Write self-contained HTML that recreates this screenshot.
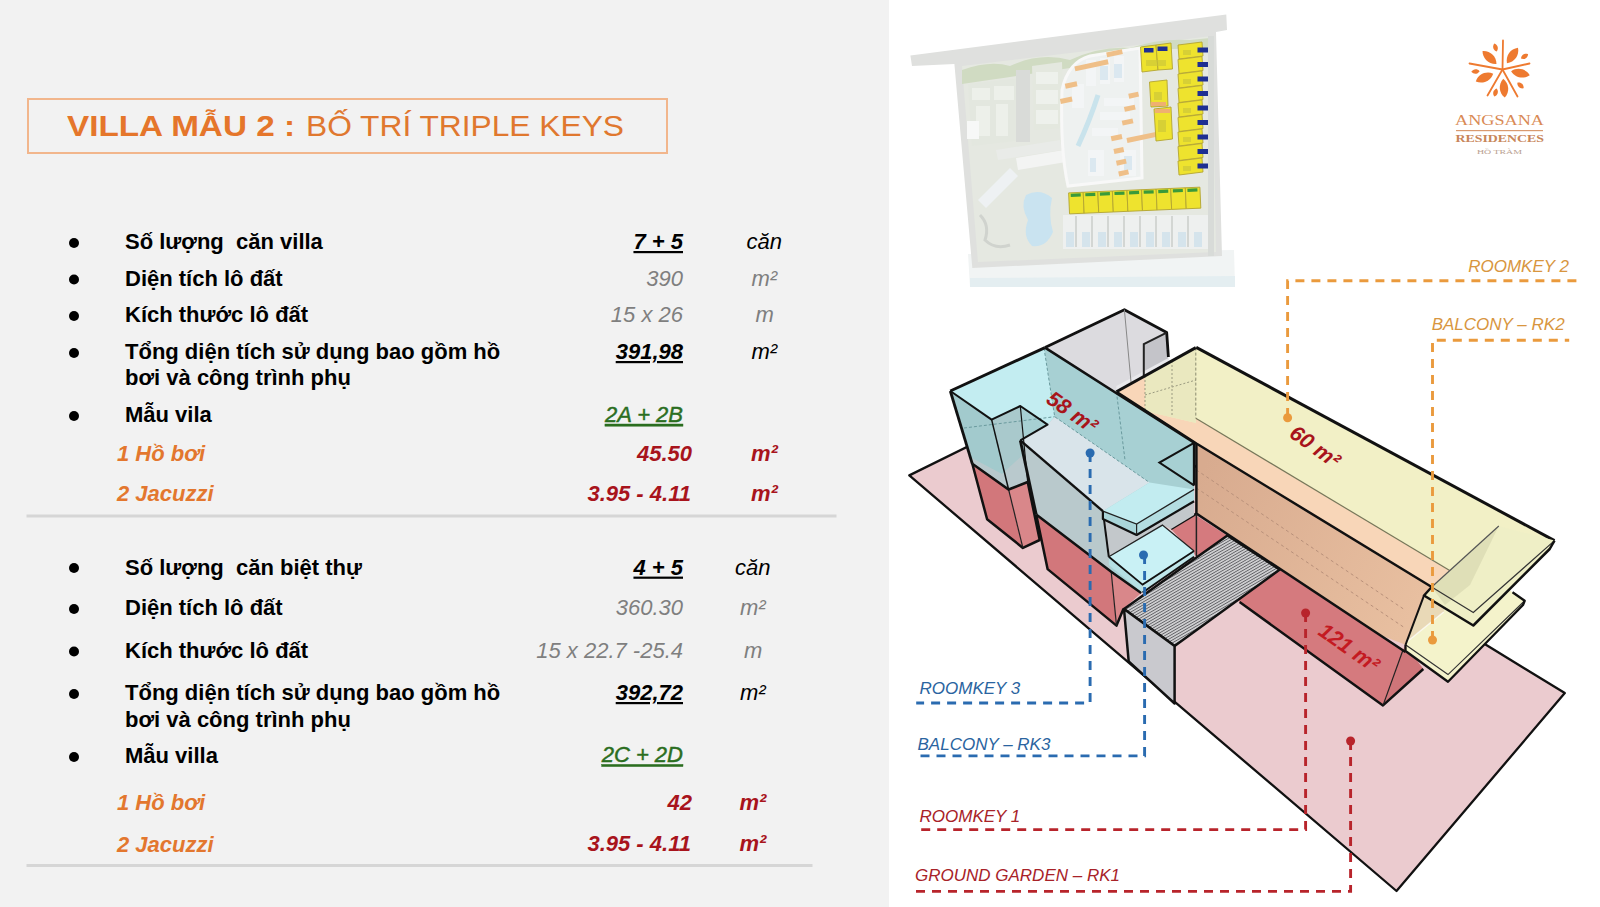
<!DOCTYPE html>
<html><head><meta charset="utf-8">
<style>
html,body{margin:0;padding:0;width:1600px;height:907px;overflow:hidden;background:#fff;}
svg{display:block;font-family:"Liberation Sans",sans-serif;}
</style></head>
<body>
<svg width="1600" height="907" viewBox="0 0 1600 907">
<rect x="0" y="0" width="889" height="907" fill="#f2f2f2"/>
<rect x="889" y="0" width="711" height="907" fill="#ffffff"/>

<!-- title -->
<rect x="28" y="99" width="639" height="54" fill="none" stroke="#f2b68c" stroke-width="2"/>
<text x="67" y="136" font-size="30" font-weight="bold" fill="#e5762b" textLength="228" lengthAdjust="spacingAndGlyphs">VILLA MẪU 2 :</text>
<text x="306" y="136" font-size="30" fill="#e0782f" textLength="318" lengthAdjust="spacingAndGlyphs">BỐ TRÍ TRIPLE KEYS</text>

<g font-size="22">
<!-- section 1 -->
<g fill="#000">
<circle cx="74" cy="243" r="5"/><circle cx="74" cy="279.5" r="5"/><circle cx="74" cy="316" r="5"/><circle cx="74" cy="353" r="5"/><circle cx="74" cy="416" r="5"/>
<circle cx="74" cy="568" r="5"/><circle cx="74" cy="609" r="5"/><circle cx="74" cy="651.5" r="5"/><circle cx="74" cy="694" r="5"/><circle cx="74" cy="757" r="5"/>
</g>
<g font-weight="bold" fill="#000" style="white-space:pre">
<text x="125" y="249">Số lượng&#160; căn villa</text>
<text x="125" y="285.5">Diện tích lô đất</text>
<text x="125" y="322">Kích thước lô đất</text>
<text x="125" y="359">Tổng diện tích sử dụng bao gồm hồ</text>
<text x="125" y="385">bơi và công trình phụ</text>
<text x="125" y="422">Mẫu vila</text>

<text x="125" y="574.6">Số lượng&#160; căn biệt thự</text>
<text x="125" y="615.4">Diện tích lô đất</text>
<text x="125" y="657.6">Kích thước lô đất</text>
<text x="125" y="700">Tổng diện tích sử dụng bao gồm hồ</text>
<text x="125" y="726.5">bơi và công trình phụ</text>
<text x="125" y="763.4">Mẫu villa</text>
</g>
<g font-weight="bold" font-style="italic" fill="#e3772e">
<text x="117" y="461">1 Hồ bơi</text>
<text x="117" y="500.6">2 Jacuzzi</text>
<text x="117" y="809.7">1 Hồ bơi</text>
<text x="117" y="852">2 Jacuzzi</text>
</g>
<g text-anchor="end" font-style="italic">
<text x="683" y="249" font-weight="bold" text-decoration="underline">7 + 5</text>
<text x="683" y="285.5" fill="#7f7f7f">390</text>
<text x="683" y="322" fill="#7f7f7f">15 x 26</text>
<text x="683" y="359" font-weight="bold" text-decoration="underline">391,98</text>
<text x="683" y="422" fill="#2b6e1f" stroke="#2b6e1f" stroke-width="0.45" text-decoration="underline">2A + 2B</text>
<text x="692" y="461" fill="#a8141c" font-weight="bold">45.50</text>
<text x="691" y="501" fill="#a8141c" font-weight="bold">3.95 - 4.11</text>

<text x="683" y="574.6" font-weight="bold" text-decoration="underline">4 + 5</text>
<text x="683" y="615.4" fill="#7f7f7f">360.30</text>
<text x="683" y="658.2" fill="#7f7f7f">15 x 22.7 -25.4</text>
<text x="683" y="700" font-weight="bold" text-decoration="underline">392,72</text>
<text x="683" y="762.4" fill="#2b6e1f" stroke="#2b6e1f" stroke-width="0.45" text-decoration="underline">2C + 2D</text>
<text x="692" y="809.6" fill="#a8141c" font-weight="bold">42</text>
<text x="691" y="851.1" fill="#a8141c" font-weight="bold">3.95 - 4.11</text>
</g>
<g font-style="italic">
<text x="746.6" y="249">căn</text>
<text x="751.5" y="285.5" fill="#7f7f7f">m²</text>
<text x="755.5" y="322" fill="#7f7f7f">m</text>
<text x="751.5" y="359">m²</text>
<text x="751" y="461" fill="#a8141c" font-weight="bold">m²</text>
<text x="751" y="501" fill="#a8141c" font-weight="bold">m²</text>

<text x="735" y="574.6">căn</text>
<text x="740" y="615.4" fill="#7f7f7f">m²</text>
<text x="744" y="658.2" fill="#7f7f7f">m</text>
<text x="740" y="700">m²</text>
<text x="739.4" y="809.6" fill="#a8141c" font-weight="bold">m²</text>
<text x="739.4" y="851.1" fill="#a8141c" font-weight="bold">m²</text>
</g>
</g>
<rect x="26.5" y="514.5" width="810" height="3" fill="#d6d6d6"/>
<rect x="26.5" y="864" width="786" height="3" fill="#d6d6d6"/>

<!-- DIAGRAM -->
<g id="diagram">
<!-- site plan -->
<g id="siteplan">
<polygon points="968,254 1234,250 1235,285 970,287" fill="#f1f4f4"/>
<polygon points="970,278 1235,276 1235,287 970,287" fill="#e4eef1"/>
<!-- outer road / base -->
<polygon points="910.4,55.4 1226.3,14.6 1227,30 1216,32 1222,256 972.3,268 954.4,64 912,66" fill="#dfe0de"/>
<!-- site interior -->
<polygon points="962,66 1212,36 1216,252 978,262" fill="#e5e8e1"/>
<!-- tree band -->
<path d="M962,70 Q990,60 1010,66 Q1040,52 1070,60 Q1100,46 1130,48 Q1160,38 1190,40 L1210,38 L1210,50 Q1170,46 1140,54 Q1100,58 1070,68 Q1030,74 962,84 Z" fill="#d0dbc2"/>
<!-- left resort block -->
<polygon points="968,84 1020,78 1024,140 972,146" fill="#e3e7df"/>
<g fill="#edf0ea">
<rect x="972" y="88" width="18" height="12"/><rect x="994" y="86" width="20" height="14"/><rect x="976" y="106" width="14" height="30"/><rect x="996" y="104" width="12" height="32"/>
</g>
<rect x="967" y="121" width="12" height="18" fill="#f7f8f7"/>
<rect x="1016" y="70" width="14" height="72" fill="#d9dbd8"/>
<polygon points="1032,66 1062,62 1064,128 1034,130" fill="#e4e8df"/>
<g fill="#eef1ec"><rect x="1036" y="72" width="22" height="12"/><rect x="1036" y="90" width="22" height="14"/><rect x="1036" y="110" width="22" height="14"/></g>
<polygon points="1016,158 1064,150 1066,162 1018,170" fill="#f3f4f3"/>
<polygon points="996,150 1060,140 1062,150 998,160" fill="#e9ebe8"/>
<polygon points="978,200 1010,168 1018,176 986,208" fill="#eef1f3"/>
<path d="M980,215 Q990,225 985,240 Q995,250 1010,245" fill="none" stroke="#d0d3ce" stroke-width="3"/>
<!-- central villa cluster -->
<path d="M1062,90 Q1068,62 1090,56 L1140,48 L1142,178 L1068,186 Q1060,150 1062,90 Z" fill="#eef1f0" stroke="#f8f8f8" stroke-width="3"/>
<g fill="#f3f5f6">
<rect x="1086" y="60" width="10" height="26"/><rect x="1100" y="58" width="10" height="26"/><rect x="1114" y="56" width="10" height="26"/>
<rect x="1072" y="84" width="12" height="24"/><rect x="1104" y="98" width="30" height="8"/><rect x="1100" y="112" width="30" height="8"/>
<rect x="1092" y="128" width="26" height="8"/><rect x="1088" y="150" width="16" height="26"/><rect x="1120" y="150" width="16" height="26"/>
</g>
<g fill="#dbe8f0">
<rect x="1100" y="66" width="8" height="14"/><rect x="1114" y="64" width="8" height="14"/><rect x="1090" y="158" width="6" height="14"/><rect x="1124" y="156" width="8" height="14"/>
</g>
<g fill="#efbf88" transform="rotate(-12 1100 110)">
<rect x="1118" y="55" width="16" height="5"/><rect x="1084" y="62" width="34" height="5"/><rect x="1071" y="77" width="12" height="5"/>
<rect x="1063" y="91" width="12" height="5"/><rect x="1131" y="100" width="10" height="5"/><rect x="1124" y="112" width="11" height="5"/>
<rect x="1119" y="125" width="11" height="5"/><rect x="1105" y="138" width="11" height="5"/><rect x="1120" y="143" width="30" height="5"/>
<rect x="1105" y="151" width="10" height="5"/><rect x="1105" y="163" width="10" height="5"/><rect x="1105" y="174" width="10" height="5"/>
</g>
<path d="M1098,95 Q1090,120 1078,146" fill="none" stroke="#c9e3ec" stroke-width="5"/>
<!-- pool -->
<path d="M1026,195 Q1040,188 1052,198 Q1048,215 1053,232 Q1046,248 1032,246 Q1022,236 1028,220 Q1020,206 1026,195 Z" fill="#c9e3f0"/>
<!-- villa strips bottom -->
<rect x="1063" y="215" width="146" height="34" fill="#eef0ef"/>
<g fill="#d5e4ec">
<rect x="1066" y="232" width="8" height="15"/><rect x="1082" y="232" width="8" height="15"/><rect x="1098" y="232" width="8" height="15"/>
<rect x="1114" y="232" width="8" height="15"/><rect x="1130" y="232" width="8" height="15"/><rect x="1146" y="232" width="8" height="15"/>
<rect x="1162" y="232" width="8" height="15"/><rect x="1178" y="232" width="8" height="15"/><rect x="1194" y="232" width="8" height="15"/>
</g>
<g fill="#d3d6d3">
<rect x="1075" y="216" width="2" height="31"/><rect x="1091" y="216" width="2" height="31"/><rect x="1107" y="216" width="2" height="31"/>
<rect x="1123" y="216" width="2" height="31"/><rect x="1139" y="216" width="2" height="31"/><rect x="1155" y="216" width="2" height="31"/>
<rect x="1171" y="216" width="2" height="31"/><rect x="1187" y="216" width="2" height="31"/>
</g>
<rect x="1208" y="36" width="6" height="220" fill="#d8dbd8"/>
<!-- yellow villa blocks -->
<g fill="#eee32e" stroke="#b3a531" stroke-width="0.9">
<polygon points="1178,45 1202,42 1203,56 1179,59"/><polygon points="1178,59.5 1202,56.5 1203,70.5 1179,73.5"/><polygon points="1178,74 1202,71 1203,85 1179,88"/>
<polygon points="1178,88.5 1202,85.5 1203,99.5 1179,102.5"/><polygon points="1178,103 1202,100 1203,114 1179,117"/><polygon points="1178,117.5 1202,114.5 1203,128.5 1179,131.5"/>
<polygon points="1178,132 1202,129 1203,143 1179,146"/><polygon points="1178,146.5 1202,143.5 1203,157.5 1179,160.5"/><polygon points="1178,161 1202,158 1203,172 1179,175"/>
<polygon points="1140.5,47 1156,45 1158,70 1142,72"/><polygon points="1156,45 1171,43 1172.5,69 1158,70"/>
<polygon points="1149.5,82 1167,80 1168,106 1151,107"/><polygon points="1154,109 1171,107 1172.5,139 1156,141"/>
</g>
<g fill="#eee32e" stroke="#b3a531" stroke-width="0.9" transform="rotate(-2.5 1135 200)">
<rect x="1069" y="190" width="14.6" height="21"/><rect x="1083.6" y="190" width="14.6" height="21"/><rect x="1098.2" y="190" width="14.6" height="21"/>
<rect x="1112.8" y="190" width="14.6" height="21"/><rect x="1127.4" y="190" width="14.6" height="21"/><rect x="1142" y="190" width="14.6" height="21"/>
<rect x="1156.6" y="190" width="14.6" height="21"/><rect x="1171.2" y="190" width="14.6" height="21"/><rect x="1185.8" y="190" width="14.6" height="21"/>
</g>
<g fill="#c9c53a" opacity="0.6">
<rect x="1183" y="50" width="8" height="5"/><rect x="1183" y="79" width="8" height="5"/><rect x="1183" y="108" width="8" height="5"/><rect x="1183" y="137" width="8" height="5"/><rect x="1183" y="166" width="8" height="5"/>
<rect x="1146" y="60" width="20" height="6"/><rect x="1154" y="92" width="8" height="8"/><rect x="1158" y="120" width="8" height="12"/>
</g>
<g fill="#3a9a3a" transform="rotate(-2.5 1135 200)">
<rect x="1071" y="191" width="10" height="3.2"/><rect x="1085.6" y="191" width="10" height="3.2"/><rect x="1100.2" y="191" width="10" height="3.2"/>
<rect x="1114.8" y="191" width="10" height="3.2"/><rect x="1129.4" y="191" width="10" height="3.2"/><rect x="1144" y="191" width="10" height="3.2"/>
<rect x="1158.6" y="191" width="10" height="3.2"/><rect x="1173.2" y="191" width="10" height="3.2"/><rect x="1187.8" y="191" width="10" height="3.2"/>
</g>
<g fill="#1e2f92">
<rect x="1197.5" y="47.5" width="10.5" height="5"/><rect x="1197.5" y="62" width="10.5" height="5"/><rect x="1197.5" y="76.5" width="10.5" height="5"/>
<rect x="1197.5" y="91" width="10.5" height="5"/><rect x="1197.5" y="105.5" width="10.5" height="5"/><rect x="1197.5" y="120" width="10.5" height="5"/>
<rect x="1197.5" y="134.5" width="10.5" height="5"/><rect x="1197.5" y="149" width="10.5" height="5"/><rect x="1197.5" y="163.5" width="10.5" height="5"/>
<rect x="1144" y="48" width="9.5" height="4.5"/><rect x="1157.5" y="46.5" width="10" height="4.5"/>
</g>
<g fill="#efb070"><rect x="1151" y="102" width="15" height="4"/><rect x="1155" y="109" width="15" height="4"/></g>
</g>
<!-- logo -->
<g id="logo" transform="translate(1502.5,69.5)" fill="#ee7a30">
<path transform="rotate(35.5) translate(0,-17.2)" d="M0,-9.5 C5.6,-4.275 5.6,4.275 0,9.5 C-5.6,4.275 -5.6,-4.275 0,-9.5 Z"/>
<path transform="rotate(-47.3) translate(0,-17.7)" d="M0,-9.5 C5.6,-4.275 5.6,4.275 0,9.5 C-5.6,4.275 -5.6,-4.275 0,-9.5 Z"/>
<path transform="rotate(-114.0) translate(0,-19.7)" d="M0,-9.5 C5.6,-4.275 5.6,4.275 0,9.5 C-5.6,4.275 -5.6,-4.275 0,-9.5 Z"/>
<path transform="rotate(101.7) translate(0,-18.3)" d="M0,-9.5 C5.6,-4.275 5.6,4.275 0,9.5 C-5.6,4.275 -5.6,-4.275 0,-9.5 Z"/>
<path transform="rotate(175.4) translate(0,-18.7)" d="M0,-9.5 C5.6,-4.275 5.6,4.275 0,9.5 C-5.6,4.275 -5.6,-4.275 0,-9.5 Z"/>
<path transform="rotate(-17.7) translate(0,-23.1)" d="M0,-4.2 C3,-1.8900000000000001 3,1.8900000000000001 0,4.2 C-3,1.8900000000000001 -3,-1.8900000000000001 0,-4.2 Z"/>
<path transform="rotate(59.4) translate(0,-25.6)" d="M0,-4.2 C3,-1.8900000000000001 3,1.8900000000000001 0,4.2 C-3,1.8900000000000001 -3,-1.8900000000000001 0,-4.2 Z"/>
<path transform="rotate(-94.2) translate(0,-27.1)" d="M0,-4.2 C3,-1.8900000000000001 3,1.8900000000000001 0,4.2 C-3,1.8900000000000001 -3,-1.8900000000000001 0,-4.2 Z"/>
<path transform="rotate(131.6) translate(0,-24.1)" d="M0,-4.2 C3,-1.8900000000000001 3,1.8900000000000001 0,4.2 C-3,1.8900000000000001 -3,-1.8900000000000001 0,-4.2 Z"/>
<path transform="rotate(-163.1) translate(0,-24.0)" d="M0,-4.2 C3,-1.8900000000000001 3,1.8900000000000001 0,4.2 C-3,1.8900000000000001 -3,-1.8900000000000001 0,-4.2 Z"/>
<g stroke="#ee7a30" stroke-width="1.8" stroke-linecap="round">
<line x1="0" y1="0" x2="0.5" y2="-29"/>
<line x1="0" y1="0" x2="-33" y2="-6"/>
<line x1="0" y1="0" x2="27" y2="-6"/>
<line x1="0" y1="0" x2="-15" y2="26"/>
<line x1="0" y1="0" x2="15" y2="27"/>
</g></g>
<text x="1455" y="125.3" font-family="Liberation Serif" font-size="14" fill="#d98a55" textLength="89" lengthAdjust="spacingAndGlyphs">ANGSANA</text>
<rect x="1456" y="130" width="87" height="1.2" fill="#d99a70"/>
<text x="1455.5" y="142.4" font-family="Liberation Serif" font-weight="bold" font-size="9.8" fill="#c8865a" textLength="88.5" lengthAdjust="spacingAndGlyphs">RESIDENCES</text>
<text x="1477" y="154.3" font-family="Liberation Serif" font-size="7" fill="#b9a090" textLength="45" lengthAdjust="spacingAndGlyphs">HỒ TRÀM</text>
<!-- ground plane -->
<polygon points="909.3,475.4 1396.5,891 1564.8,693.1 1076,393" fill="#ebcbcf" stroke="#111" stroke-width="2.3" stroke-linejoin="round"/>

<!-- gray back block -->
<polygon points="1045,347.6 1124.4,309.7 1166.7,332.6 1168.4,363 1116.4,391.7" fill="#dcdbdf"/>
<polygon points="1143.8,344.1 1166.7,332.6 1168.4,363 1144.6,377" fill="#c4c4c9"/>
<polygon points="1116.4,391.7 1168.4,363 1168.4,358 1116.4,386" fill="#e9e9ec"/>
<polyline points="1045,347.6 1124.4,309.7 1166.7,332.6 1168.4,357" fill="none" stroke="#111" stroke-width="2.8" stroke-linejoin="round"/>
<polyline points="1143.8,377 1143.8,344.1 1166.7,332.6" fill="none" stroke="#222" stroke-width="2"/>
<polyline points="1124.4,309.7 1131,382" fill="none" stroke="#888" stroke-width="1"/>

<!-- long building: yellow box -->
<polygon points="1116.4,391.7 1195.8,347.6 1554.5,540.6 1549.7,549 1473.3,625.5 1431.7,587 1196.4,443.5" fill="#f2f0c6"/>
<polygon points="1116.4,391.7 1145,376 1145,411 1196,423 1195.8,418.2 1449.7,570.6 1431.7,587 1196.4,443.5" fill="#f8d6b8"/>
<polygon points="1145,376 1195.8,347.6 1195.8,423 1145,411" fill="#e9e6bd" opacity="0.85"/>
<g fill="none" stroke="#9a9a80" stroke-width="1" stroke-dasharray="2 2"><polyline points="1145,376 1145,411"/><polyline points="1172,361 1172,417"/><polyline points="1145,395 1196,380"/></g>
<polyline points="1195.8,347.6 1195.8,418.2" fill="none" stroke="#8a8a70" stroke-width="1" stroke-dasharray="3 2"/>
<polyline points="1195.8,418.2 1449.7,570.6" fill="none" stroke="#77775a" stroke-width="1.2"/>
<!-- tan front face -->
<defs><linearGradient id="tang" gradientUnits="userSpaceOnUse" x1="1196" y1="480" x2="1420" y2="600"><stop offset="0" stop-color="#d8ab8f"/><stop offset="1" stop-color="#e8bfa0"/></linearGradient></defs>
<polygon points="1196.4,443.5 1431.7,587 1424,595.5 1405.5,644.8 1380,635 1196.4,513.6" fill="url(#tang)"/>
<g fill="none" stroke="#b8907a" stroke-width="1" stroke-dasharray="3 3">
<polyline points="1196.4,470 1405,610"/><polyline points="1196.4,488 1405,628"/>
</g>
<!-- red 121 box -->
<polygon points="1171,528.9 1195,514.8 1403,650 1423.3,669 1383,705.4 1239.6,602 1196,556" fill="#d57a7e"/>
<polygon points="1383,705.4 1423.3,669 1405.5,644.8 1403,650" fill="#cf7579"/>
<polyline points="1239.6,602 1383,705.4 1423.3,669" fill="none" stroke="#111" stroke-width="2.5" stroke-linejoin="round"/>
<polyline points="1383,705.4 1403,650" fill="none" stroke="#222" stroke-width="1.2"/>
<polyline points="1196.2,347.4 1554.5,540.6" fill="none" stroke="#111" stroke-width="3"/>
<polyline points="1116.4,391.7 1195.8,347.6" fill="none" stroke="#111" stroke-width="3"/>
<polyline points="1116.4,391.7 1196.4,443.5 1431.7,587" fill="none" stroke="#111" stroke-width="2.5"/>
<polyline points="1196.4,443.5 1196.4,513.6 1405.5,652" fill="none" stroke="#111" stroke-width="2.5"/>
<polyline points="1171,528.9 1196.4,513.6" fill="none" stroke="#111" stroke-width="2.5"/>
<polyline points="1196.4,513.6 1196.4,556" fill="none" stroke="#222" stroke-width="1.5"/>

<!-- left wing red bases -->
<polygon points="972.3,463.8 1008.6,489.5 1022.9,547.9 987.1,519.2" fill="#d2777b"/>
<polygon points="1008.6,489.5 1027.7,482 1039.7,540 1022.9,547.9" fill="#d9878a"/>
<polygon points="1036.2,514.4 1111.2,571.8 1116.5,625.6 1047.6,569.1" fill="#d2777b"/>
<polygon points="1111.2,571.8 1141.2,592.9 1123.5,608.8 1116.5,625.6" fill="#d9878a"/>
<polyline points="972.3,463.8 987.1,519.2 1022.9,547.9 1039.7,540 1027.7,482" fill="none" stroke="#111" stroke-width="2.5" stroke-linejoin="round"/>
<polyline points="1008.6,489.5 1022.9,547.9" fill="none" stroke="#222" stroke-width="1.2"/>
<polyline points="1036.2,514.4 1047.6,569.1 1116.5,625.6 1123.5,608.8" fill="none" stroke="#111" stroke-width="2.5" stroke-linejoin="round"/>
<polyline points="1111.2,571.8 1116.5,625.6" fill="none" stroke="#222" stroke-width="1.2"/>

<!-- left wing cyan upper: silhouette -->
<polygon points="950.3,391 1045,347.6 1194.1,442.8 1194.1,501.3 1136.6,535 1142.6,592.5 1111.2,571.8 1036.2,514.4 1020.2,441.5 1027.7,482 1008.6,489.5 972.3,463.8" fill="#a7d0d3"/>
<!-- light inner back wall -->
<polygon points="950.3,391 1044,348 1054.7,416.7 1047.5,424.6 1020.3,406 991.6,419.6" fill="#c3edf1"/>
<!-- inner floor -->
<polygon points="1047.5,424.6 1054.7,416.7 1149.5,482.5 1102.9,511.2 1020.3,440.4" fill="#d9e4ea"/>
<!-- block B front-left face -->
<polygon points="1020.3,440.4 1102.9,511.2 1108.8,556.8 1111.2,571.8 1036.2,514.4" fill="#b9c9cc"/>
<!-- block A faces -->
<polygon points="950.3,391 991.6,419.6 1008.6,489.5 972.3,463.8" fill="#a2cacd"/>
<polygon points="991.6,419.6 1020.3,406 1027.7,482 1008.6,489.5" fill="#a9c9cc"/>
<g fill="none" stroke="#6a9a9e" stroke-width="1" stroke-dasharray="3 2">
<polyline points="1044,348 1054.7,416.7 1149.5,482.5"/>
<polyline points="964,428 1054.7,416.7"/>
<polyline points="1116.4,391.7 1125,460"/>
</g>
<polyline points="950.3,391 1045,347.6" fill="none" stroke="#111" stroke-width="3"/>
<polyline points="1045,347.6 1194.1,442.8 1194.1,485.4" fill="none" stroke="#111" stroke-width="2.5" stroke-linejoin="round"/>
<polygon points="970,457 1002,474 1026,452 1027.7,482 1008.6,489.5 972.3,463.8" fill="#bcc9cc" opacity="0.85"/>
<polyline points="950.3,391 991.6,419.6 1020.3,406 1047.5,424.6 1020.3,440.4" fill="none" stroke="#111" stroke-width="2" stroke-linejoin="round"/>
<polyline points="1020.3,440.4 1102.9,511.2" fill="none" stroke="#111" stroke-width="2.4"/>
<polyline points="950.3,391 972.3,463.8" fill="none" stroke="#111" stroke-width="2.8"/>
<polyline points="991.6,419.6 1008.6,489.5" fill="none" stroke="#111" stroke-width="1.5"/>
<polyline points="1020.3,406 1027.7,482" fill="none" stroke="#111" stroke-width="1.2"/>
<polyline points="1020.3,440.4 1036.2,514.4" fill="none" stroke="#111" stroke-width="2.8"/>
<polyline points="1194.1,442.8 1159.4,462.6 1194.1,485.4" fill="none" stroke="#111" stroke-width="2"/>
<polyline points="972.3,463.8 1008.6,489.5 1027.7,482" fill="none" stroke="#111" stroke-width="2.5"/>
<polyline points="1036.2,514.4 1111.2,571.8 1141.2,592.9" fill="none" stroke="#111" stroke-width="2.5"/>
<!-- gray inner wall under slab -->
<polygon points="1102.9,511.2 1136.6,535 1194.1,501.3 1194.1,515 1171,528.9 1162.4,525.1 1108.8,556.8" fill="#c3c8cb"/>
<polyline points="1102.9,511.2 1108.8,556.8" fill="none" stroke="#111" stroke-width="2"/>
<!-- balcony 1 slab -->
<polygon points="1102.9,511.2 1149.5,482.5 1194.1,489.4 1136.6,524.1" fill="#c2ecf0"/>
<polygon points="1102.9,511.2 1136.6,524.1 1136.6,535 1102.9,519" fill="#a9d5d9"/>
<polygon points="1136.6,524.1 1194.1,489.4 1194.1,501.3 1136.6,535" fill="#b3dde1"/>
<polyline points="1102.9,511.2 1136.6,524.1 1194.1,489.4" fill="none" stroke="#222" stroke-width="1.3"/>
<polyline points="1102.9,511.2 1102.9,519 1136.6,535 1194.1,501.3" fill="none" stroke="#111" stroke-width="2.2" stroke-linejoin="round"/>
<polyline points="1136.6,524.1 1136.6,535" fill="none" stroke="#222" stroke-width="1.2"/>
<!-- balcony 2 box -->
<polygon points="1108.8,556.8 1162.4,525.1 1194.1,550.9 1142.6,584.6" fill="#c9f1f5"/>
<polygon points="1108.8,556.8 1142.6,584.6 1142.6,592.5 1108.8,565" fill="#b5dfe3"/>
<polygon points="1142.6,584.6 1194.1,550.9 1194.1,556.8 1142.6,592.5" fill="#bfe6ea"/>
<polyline points="1108.8,556.8 1162.4,525.1 1194.1,550.9" fill="none" stroke="#222" stroke-width="1.3"/>
<polyline points="1108.8,556.8 1142.6,584.6 1194.1,550.9" fill="none" stroke="#111" stroke-width="1.8"/>
<polyline points="1142.6,592.5 1194.1,556.8" fill="none" stroke="#111" stroke-width="2"/>

<!-- stairs -->
<defs>
<pattern id="hatch" patternUnits="userSpaceOnUse" width="2.5" height="2.5" patternTransform="rotate(-30)">
<rect width="2.5" height="2.5" fill="#cfcfd1"/>
<rect width="2.5" height="0.85" fill="#606064"/>
</pattern>
</defs>
<polygon points="1124,609 1227.4,535.5 1279.8,569.6 1174.6,646" fill="url(#hatch)" stroke="#111" stroke-width="2.5" stroke-linejoin="round"/>
<polygon points="1124,609 1174.6,646 1174.6,703.5 1128.7,661.4" fill="#c9c9ce" stroke="#111" stroke-width="2.5" stroke-linejoin="round"/>

<!-- yellow balconies right end -->
<polygon points="1405.5,644.8 1424,598 1490,575 1512.5,592.2 1524.7,600.8 1523,605 1448,681.8 1405.5,651" fill="#f4f3cb"/>
<polygon points="1424,595.5 1405.5,643 1443.7,612 1449.7,570.6 1431.7,587" fill="#e6d3b4" opacity="0.85"/>
<polyline points="1405.5,643 1443.7,612" fill="none" stroke="#fff" stroke-width="1.5" opacity="0.7"/>
<polyline points="1405.5,644.8 1448,674.6 1524.7,600.8" fill="none" stroke="#333" stroke-width="1.2"/>
<polyline points="1405.5,644.8 1405.5,651 1448,681.8 1523,605 1524.7,600.8 1512.5,592.2" fill="none" stroke="#111" stroke-width="2.3" stroke-linejoin="round"/>
<polygon points="1431.7,587 1498.8,526 1554.5,540.6 1549.7,549 1473.3,625.5 1424,595.5" fill="#efefc6"/>
<polygon points="1431.7,587 1498.8,526 1470,585 1445,605" fill="#d9d8b0" opacity="0.7"/>
<polyline points="1431.7,587 1473.3,612.5 1554.5,540.6" fill="none" stroke="#333" stroke-width="1.2"/>
<polyline points="1431.7,587 1424,595.5 1473.3,625.5 1549.7,549 1554.5,540.6" fill="none" stroke="#111" stroke-width="2.5" stroke-linejoin="round"/>
<polyline points="1431.7,587 1498.8,526" fill="none" stroke="#555" stroke-width="1.2"/>
<polyline points="1424,595.5 1405.5,644.8" fill="none" stroke="#111" stroke-width="2"/>

<!-- leader lines -->
<g fill="none" stroke-width="2.9" stroke-dasharray="9 7">
<polyline points="1287.6,417 1287.6,280.8 1578.7,280.8" stroke="#ea9a3d"/>
<polyline points="1432.5,640 1432.5,340.3 1569.2,340.3" stroke="#ea9a3d"/>
<polyline points="1090.1,453 1090.1,703 916.2,703" stroke="#2a6bb0"/>
<polyline points="1144.6,555 1144.6,755.9 917,755.9" stroke="#2a6bb0"/>
<polyline points="1305.6,613 1305.6,829.6 917.4,829.6" stroke="#b8242b"/>
<polyline points="1350.6,741 1350.6,891.4 911.4,891.4" stroke="#b8242b"/>
</g>
<circle cx="1287.6" cy="417.7" r="4.5" fill="#ea9a3d"/>
<circle cx="1432.5" cy="640" r="4.5" fill="#ea9a3d"/>
<circle cx="1090.1" cy="453" r="4.5" fill="#2a6bb0"/>
<circle cx="1143.5" cy="555" r="4.5" fill="#2a6bb0"/>
<circle cx="1305.6" cy="613" r="4.5" fill="#b8242b"/>
<circle cx="1350.6" cy="741" r="4.5" fill="#b8242b"/>

<g font-style="italic" font-size="17">
<text x="1468.2" y="271.7" fill="#d8963f">ROOMKEY 2</text>
<text x="1431.7" y="330.3" fill="#d8963f">BALCONY – RK2</text>
<text x="919.5" y="694.4" fill="#2a64a0">ROOMKEY 3</text>
<text x="917.5" y="750.2" fill="#2a64a0">BALCONY – RK3</text>
<text x="919.5" y="821.5" fill="#a82228">ROOMKEY 1</text>
<text x="915" y="880.6" fill="#a82228">GROUND GARDEN – RK1</text>
</g>
<g font-weight="bold" font-style="italic" font-size="21.5" fill="#a8141b">
<text transform="translate(1045,402) rotate(35)">58 m²</text>
<text transform="translate(1288,436) rotate(36)">60 m²</text>
<text transform="translate(1317,634) rotate(35)" fill="#c41a22">121 m²</text>
</g>
</g>
</svg>
</body></html>
